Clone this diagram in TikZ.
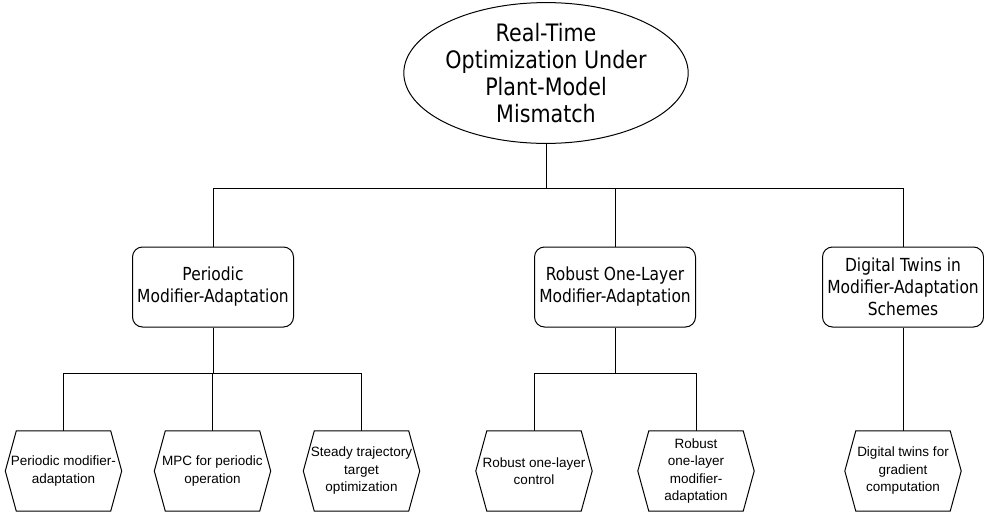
\documentclass[tikz,border=0pt]{standalone}
\usepackage{fontspec}
\setmainfont{Liberation Sans}
\newfontfamily\headfont[FakeStretch=0.86]{DejaVu Sans}
\usetikzlibrary{shapes.geometric}

\tikzset{
  link/.style={draw=black, line width=1pt},
  rootnode/.style={ellipse, draw=black, line width=1pt, inner sep=0pt,
    minimum width=255pt, minimum height=138pt, align=center,
    font=\headfont\fontsize{24}{27}\selectfont},
  topicbox/.style={rectangle, rounded corners=10pt, draw=black, line width=1pt,
    inner sep=0pt, minimum width=161pt, minimum height=80pt, align=center,
    font=\headfont\fontsize{18}{22}\selectfont},
  leafhex/.style={inner sep=0pt, minimum width=116pt, minimum height=80pt,
    align=center, font=\fontsize{13.5}{17.5}\selectfont},
}

\begin{document}
\begin{tikzpicture}[x=1pt, y=-1pt]
  \useasboundingbox (0,0) rectangle (984,514);

  % root
  \node[rootnode] (root) at (546,73) {Real-Time\\Optimization Under\\Plant-Model\\Mismatch};

  % second level
  \node[topicbox] (pma) at (213,287) {Periodic\\Modifier-Adaptation};
  \node[topicbox] (rol) at (615,287) {Robust One-Layer\\Modifier-Adaptation};
  \node[topicbox] (dtw) at (903,287) {Digital Twins in\\Modifier-Adaptation\\Schemes};

  % leaves
  \node[leafhex] (h1) at (63.5,471) {Periodic modifier-\\adaptation};
  \node[leafhex] (h2) at (212.5,471) {MPC for periodic\\operation};
  \node[leafhex] (h3) at (361.5,471) {Steady trajectory\\target\\optimization};
  \node[leafhex] (h4) at (534,471) {Robust one-layer\\control};
  \node[leafhex] (h5) at (696,471) {Robust\\one-layer\\modifier-\\adaptation};
  \node[leafhex] (h6) at (903,471) {Digital twins for\\gradient\\computation};

  % hexagon outlines around the leaf nodes
  \foreach \n in {h1,h2,h3,h4,h5,h6}
    \draw[link, line join=miter]
      ([xshift=11pt]\n.north west) -- ([xshift=-11pt]\n.north east) -- (\n.east)
      -- ([xshift=-11pt]\n.south east) -- ([xshift=11pt]\n.south west) -- (\n.west) -- cycle;

  % bus levels
  \coordinate (bus1) at (0,188);
  \coordinate (bus2) at (0,373);

  % connectors
  \foreach \c in {pma,rol,dtw}
    \draw[link] (root.south) -- (root.south |- bus1) -| (\c.north);
  \foreach \c in {h1,h2,h3}
    \draw[link] (pma.south) -- (pma.south |- bus2) -| (\c.north);
  \foreach \c in {h4,h5}
    \draw[link] (rol.south) -- (rol.south |- bus2) -| (\c.north);
  \draw[link] (dtw.south) -- (h6.north);
\end{tikzpicture}
\end{document}
